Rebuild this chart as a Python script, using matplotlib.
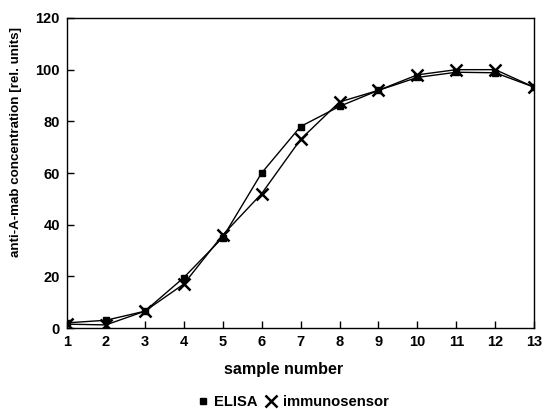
import matplotlib
matplotlib.use("Agg")
import matplotlib.pyplot as plt
from matplotlib.lines import Line2D

plt.rcParams['font.family'] = ['Liberation Sans', 'DejaVu Sans']

samples = [1, 2, 3, 4, 5, 6, 7, 8, 9, 10, 11, 12, 13]
elisa = [2.0, 3.0, 6.5, 19.5, 35.0, 60.0, 78.0, 85.8, 92.0, 97.0, 99.0, 98.8, 93.2]
immuno = [1.5, 1.2, 6.5, 17.0, 36.0, 52.0, 73.0, 87.5, 92.0, 98.0, 100.0, 100.0, 93.2]

fig = plt.figure(figsize=(5.44, 4.09), dpi=100)
ax = fig.add_axes([0.123, 0.198, 0.859, 0.758])

ax.plot(samples, elisa, color='black', lw=1.0, marker='s', ms=5, mfc='black', mec='black')
ax.plot(samples, immuno, color='black', lw=1.0, marker='x', ms=9, mew=1.8)

ax.set_xlim(1, 13)
ax.set_ylim(0, 120)
ax.set_xticks(samples)
ax.set_yticks([0, 20, 40, 60, 80, 100, 120])
ax.tick_params(direction='in', length=5, width=1, labelsize=10.5, pad=5)
for lab in ax.get_xticklabels() + ax.get_yticklabels():
    lab.set_fontweight('bold')
for sp in ax.spines.values():
    sp.set_linewidth(1.0)

ax.set_xlabel('sample number', fontsize=11.6, fontweight='bold')
ax.xaxis.set_label_coords((284 - 67) / 467, -(369 - 328) / 310)
ax.xaxis.label.set_va('center')
ax.set_ylabel('anti-A-mab concentration [rel. units]', fontsize=9.6, fontweight='bold')
ax.yaxis.set_label_coords(-(67 - 16) / 467, (328 - 142) / 310)
ax.yaxis.label.set_va('center')

handles = [Line2D([], [], ls='none', marker='s', ms=4, color='black'),
           Line2D([], [], ls='none', marker='x', ms=8, mew=1.8, color='black')]
fig.legend(handles, ['ELISA', 'immunosensor'], loc='center', bbox_to_anchor=(292 / 544, (409 - 402) / 409),
           ncol=2, frameon=False, prop={'weight': 'bold', 'size': 10.6},
           handletextpad=0.3, columnspacing=0.4, handlelength=1.0, borderpad=0, borderaxespad=0)

fig.savefig('out.png', dpi=100)
